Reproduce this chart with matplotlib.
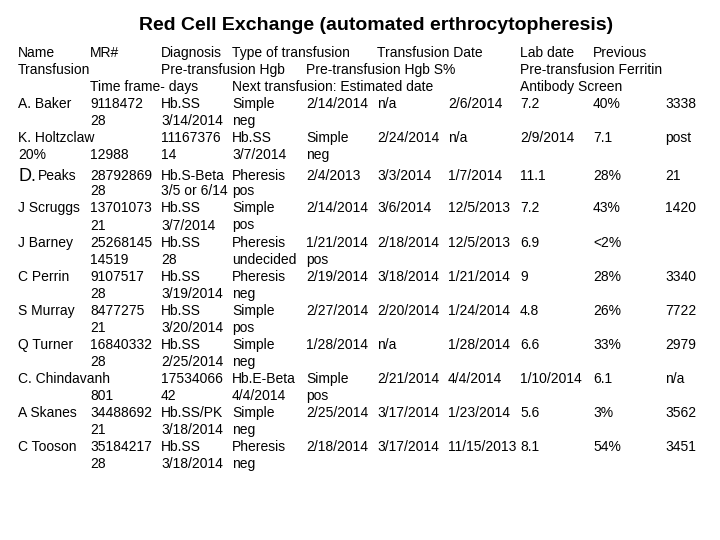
import matplotlib
matplotlib.use('Agg')
import matplotlib.pyplot as plt

plt.rcParams['font.family'] = ['Liberation Sans', 'DejaVu Sans']

title = 'Red Cell Exchange (automated erthrocytopheresis)'

# each line: 10 cells, "" = blank
lines = [
    ['Name', 'MR#', 'Diagnosis', 'Type of transfusion', '', 'Transfusion Date', '', 'Lab date', 'Previous', ''],
    ['Transfusion', '', 'Pre-transfusion Hgb', '', 'Pre-transfusion Hgb S%', '', '', 'Pre-transfusion Ferritin', '', ''],
    ['', 'Time frame- days', '', 'Next transfusion: Estimated date', '', '', '', 'Antibody Screen', '', ''],
    ['A. Baker', '9118472', 'Hb.SS', 'Simple', '2/14/2014', 'n/a', '2/6/2014', '7.2', '40%', '3338'],
    ['', '28', '3/14/2014', 'neg', '', '', '', '', '', ''],
    ['K. Holtzclaw', '', '11167376', 'Hb.SS', 'Simple', '2/24/2014', 'n/a', '2/9/2014', '7.1', 'post'],
    ['20%', '12988', '14', '3/7/2014', 'neg', '', '', '', '', ''],
    ['D. Peaks', '28792869', 'Hb.S-Beta', 'Pheresis', '2/4/2013', '3/3/2014', '1/7/2014', '11.1', '28%', '21'],
    ['', '28', '3/5 or 6/14', 'pos', '', '', '', '', '', ''],
    ['J Scruggs', '13701073', 'Hb.SS', 'Simple', '2/14/2014', '3/6/2014', '12/5/2013', '7.2', '43%', '1420'],
    ['', '21', '3/7/2014', 'pos', '', '', '', '', '', ''],
    ['J Barney', '25268145', 'Hb.SS', 'Pheresis', '1/21/2014', '2/18/2014', '12/5/2013', '6.9', '<2%', ''],
    ['', '14519', '28', 'undecided', 'pos', '', '', '', '', ''],
    ['C Perrin', '9107517', 'Hb.SS', 'Pheresis', '2/19/2014', '3/18/2014', '1/21/2014', '9', '28%', '3340'],
    ['', '28', '3/19/2014', 'neg', '', '', '', '', '', ''],
    ['S Murray', '8477275', 'Hb.SS', 'Simple', '2/27/2014', '2/20/2014', '1/24/2014', '4.8', '26%', '7722'],
    ['', '21', '3/20/2014', 'pos', '', '', '', '', '', ''],
    ['Q Turner', '16840332', 'Hb.SS', 'Simple', '1/28/2014', 'n/a', '1/28/2014', '6.6', '33%', '2979'],
    ['', '28', '2/25/2014', 'neg', '', '', '', '', '', ''],
    ['C. Chindavanh', '', '17534066', 'Hb.E-Beta', 'Simple', '2/21/2014', '4/4/2014', '1/10/2014', '6.1', 'n/a'],
    ['', '801', '42', '4/4/2014', 'pos', '', '', '', '', ''],
    ['A Skanes', '34488692', 'Hb.SS/PK', 'Simple', '2/25/2014', '3/17/2014', '1/23/2014', '5.6', '3%', '3562'],
    ['', '21', '3/18/2014', 'neg', '', '', '', '', '', ''],
    ['C Tooson', '35184217', 'Hb.SS', 'Pheresis', '2/18/2014', '3/17/2014', '11/15/2013', '8.1', '54%', '3451'],
    ['', '28', '3/18/2014', 'neg', '', '', '', '', '', ''],
]

col_x = [18, 90, 161, 232, 306, 377, 448, 520, 593, 665]
y0, dy = 53, 17.05

fig = plt.figure(figsize=(7.2, 5.4), dpi=100)
ax = fig.add_axes([0, 0, 1, 1])
ax.set_xlim(0, 720); ax.set_ylim(540, 0); ax.axis('off')

ax.text(376, 26, title, ha='center', va='center', fontsize=14, fontweight='bold')
for i, row in enumerate(lines):
    y = y0 + i * dy
    if i == 7:
        y += 4
    elif i > 7:
        y += 2
    for j, cell in enumerate(row):
        if not cell:
            continue
        if cell == 'D. Peaks':
            ax.text(col_x[j], y, 'D.', ha='left', va='center', fontsize=13)
            ax.text(col_x[j] + 20, y, 'Peaks', ha='left', va='center', fontsize=10)
            continue
        ax.text(col_x[j], y, cell, ha='left', va='center', fontsize=10)

fig.savefig('out.png', dpi=100)
